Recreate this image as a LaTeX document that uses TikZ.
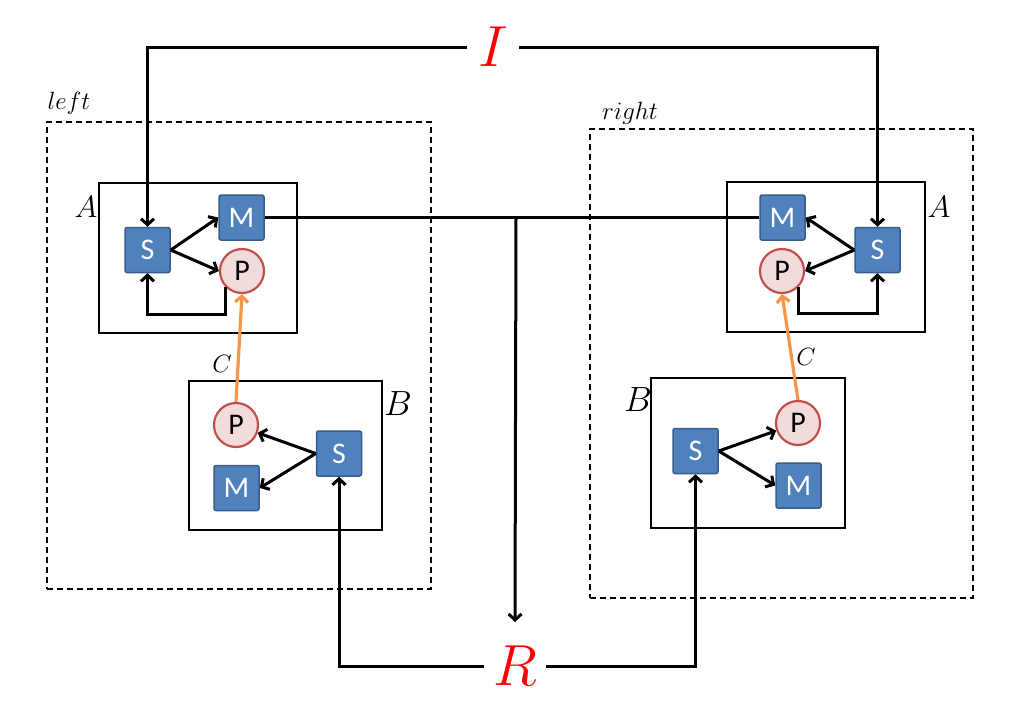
\RequirePackage{fix-cm}
\documentclass[tikz,border=0pt]{standalone}
\usepackage{fontspec}
\newfontfamily\calib{Carlito}
\usetikzlibrary{arrows.meta}
\definecolor{boxblue}{HTML}{4F81BD}
\definecolor{boxedge}{HTML}{385D8A}
\definecolor{ppink}{HTML}{F2DCDB}
\definecolor{pedge}{HTML}{C0504D}
\definecolor{corange}{HTML}{F79646}
\tikzset{
 sq/.style={draw=boxedge, fill=boxblue, line width=1.5pt, rounded corners=2pt, minimum width=45pt, minimum height=45pt, inner sep=0pt, text=white, font=\calib\fontsize{30}{30}\selectfont},
 pc/.style={circle, draw=pedge, fill=ppink, line width=2.2pt, minimum size=44pt, inner sep=0pt, font=\calib\fontsize{30}{30}\selectfont},
 frame/.style={draw, line width=2.2pt, inner sep=0pt},
 dframe/.style={draw, line width=2pt, inner sep=0pt, dash pattern=on 6pt off 4pt},
 conn/.style={line width=3pt, -{Straight Barb[length=6pt,width=13pt]}},
 plain/.style={line width=3pt},
 carrow/.style={draw=corange, line width=3.2pt, -{Straight Barb[length=6pt,width=13pt]}},
 lbl/.style={inner sep=0pt},
}
\begin{document}
\begin{tikzpicture}[x=1pt,y=-1pt]
\useasboundingbox (0,0) rectangle (1009,723);
% frames
\node[dframe, minimum width=384pt, minimum height=467pt] (lD) at (239,355.5) {};
\node[dframe, minimum width=383pt, minimum height=469pt] (rD) at (781.5,363.5) {};
\node[frame, minimum width=198pt, minimum height=150pt] (lA) at (198,258) {};
\node[frame, minimum width=198pt, minimum height=150pt] (rA) at (826,257) {};
\node[frame, minimum width=193pt, minimum height=149pt] (lB) at (285.5,455.5) {};
\node[frame, minimum width=194pt, minimum height=150pt] (rB) at (748,453) {};
% labels
\node[lbl, font=\fontsize{25}{25}\selectfont] (leftl) at (69,103) {$left$};
\node[lbl, font=\fontsize{25}{25}\selectfont] (rightl) at (630,113) {$right$};
\node[lbl, font=\fontsize{31}{31}\selectfont] (lAl) at (86,207) {$A$};
\node[lbl, font=\fontsize{31}{31}\selectfont] (rAl) at (939,207) {$A$};
\node[lbl, font=\fontsize{35}{35}\selectfont] (lBl) at (398,404) {$B$};
\node[lbl, font=\fontsize{35}{35}\selectfont] (rBl) at (638,400) {$B$};
\node[lbl, font=\fontsize{25}{25}\selectfont] (lCl) at (222,364) {$C$};
\node[lbl, font=\fontsize{25}{25}\selectfont] (rCl) at (806,357) {$C$};
\node[lbl, text=red, font=\fontsize{58}{58}\selectfont, inner xsep=11pt] (I) at (493,47) {$I$};
\node[lbl, text=red, font=\fontsize{58}{58}\selectfont, inner xsep=9pt, inner ysep=24pt] (R) at (515,666) {$R$};
% left A
\node[sq] (lS) at (147.5,250) {S};
\node[sq] (lM) at (241.5,217.5) {M};
\node[pc] (lP) at (242,271) {P};
% right A
\node[sq] (rM) at (782.5,217.5) {M};
\node[sq] (rS) at (877.5,250) {S};
\node[pc] (rP) at (782,271) {P};
% left B
\node[pc] (lBP) at (236,425) {P};
\node[sq] (lBM) at (236.5,488) {M};
\node[sq] (lBS) at (339,453.5) {S};
% right B
\node[sq] (rBS) at (695.5,451) {S};
\node[pc] (rBP) at (798,423) {P};
\node[sq] (rBM) at (798.5,485.5) {M};
% helper coordinates
\coordinate (mid) at (516,217);
\coordinate (lLoopY) at (0,314);
\coordinate (rLoopY) at (0,313);
% connectors
\draw[conn] (I.west) -| (lS.north);
\draw[conn] (I.east) -| (rS.north);
\draw[conn] (R.west) -| (lBS.south);
\draw[conn] (R.east) -| (rBS.south);
\draw[plain] (lM.east) -- (rM.west);
\draw[conn] (mid) -- (R.north);
\draw[conn] (lS.east) -- (lM.west);
\draw[conn] (lS.east) -- (lP.west);
\draw[conn] (lP.225) |- (lS.south |- lLoopY) -- (lS.south);
\draw[conn] (rS.west) -- (rM.east);
\draw[conn] (rS.west) -- (rP.east);
\draw[conn] (rP.-45) |- (rS.south |- rLoopY) -- (rS.south);
\draw[conn] (lBS.west) -- (lBP);
\draw[conn] (lBS.west) -- (lBM.east);
\draw[conn] (rBS.east) -- (rBP);
\draw[conn] (rBS.east) -- (rBM.west);
\draw[carrow] (lBP.north) -- (lP.south);
\draw[carrow] (rBP.north) -- (rP.south);
\end{tikzpicture}
\end{document}
